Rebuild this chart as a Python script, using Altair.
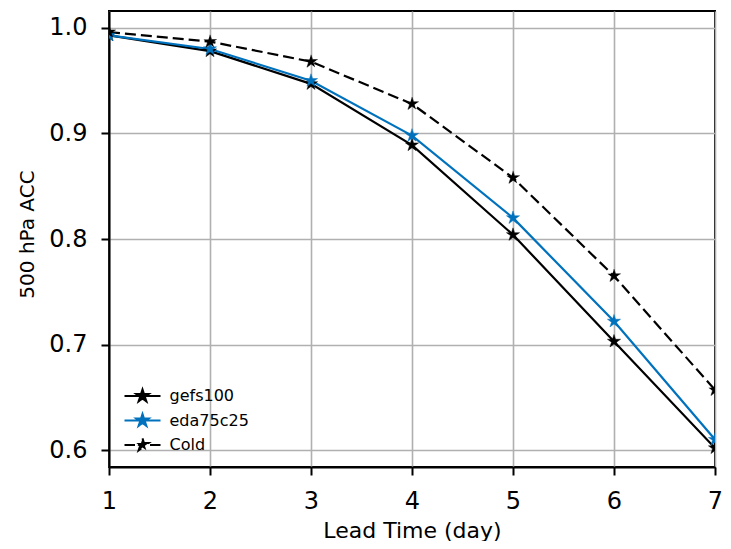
import altair as alt
import pandas as pd

# ---- data ----
days = [1, 2, 3, 4, 5, 6, 7]
gefs100 = [0.993, 0.978, 0.947, 0.889, 0.804, 0.703, 0.602]
eda75c25 = [0.993, 0.980, 0.950, 0.898, 0.820, 0.722, 0.610]
cold = [0.996, 0.987, 0.968, 0.928, 0.858, 0.765, 0.657]
series_names = ["gefs100", "eda75c25", "Cold"]
series_colors = ["#000000", "#0072BD", "#000000"]
x_ticks = [1, 2, 3, 4, 5, 6, 7]
y_ticks = [0.6, 0.7, 0.8, 0.9, 1.0]

rows = []
for name, vals, col in zip(series_names, [gefs100, eda75c25, cold], series_colors):
    for d, v in zip(days, vals):
        rows.append({"day": d, "acc": v, "series": name, "hex": col})
df = pd.DataFrame(rows)

STAR = ("M0,-1L0.2245,-0.309L0.9511,-0.309L0.3633,0.118L0.5878,0.809"
        "L0,0.382L-0.5878,0.809L-0.3633,0.118L-0.9511,-0.309L-0.2245,-0.309Z")
LEG_STAR = ("M-3,0L3,0"
            "M0,-1.1L0.247,-0.34L1.046,-0.34L0.4,0.13L0.6466,0.89"
            "L0,0.42L-0.6466,0.89L-0.4,0.13L-1.046,-0.34L-0.247,-0.34Z")

FONT = "DejaVu Sans"
W, H = 606, 456

x_enc = alt.X(
    "day:Q",
    scale=alt.Scale(domain=[1, 7], nice=False, zero=False),
    axis=alt.Axis(values=x_ticks, format="d", title="Lead Time (day)",
                  labelBaseline="alphabetic", labelPadding=33, labelFlush=False,
                  titleFontSize=22, titleBaseline="alphabetic", titleY=70, titleX=W / 2),
)
y_enc = alt.Y(
    "acc:Q",
    scale=alt.Scale(domain=[0.584, 1.016], nice=False, zero=False),
    axis=alt.Axis(values=y_ticks, format=".1f", title="500 hPa ACC",
                  labelPadding=14, labelFlush=False, titleAngle=270,
                  titleFontSize=20, titleBaseline="alphabetic", titleAlign="center",
                  titleX=-76, titleY=223),
)

base = alt.Chart(df)

solid = base.transform_filter(alt.datum.series != "Cold").mark_line(
    strokeWidth=2.2, clip=True
).encode(x=x_enc, y=y_enc, color=alt.Color("hex:N", scale=None), detail="series:N")

dashed = base.transform_filter(alt.datum.series == "Cold").mark_line(
    strokeWidth=2.2, strokeDash=[11, 5], clip=True
).encode(x=x_enc, y=y_enc, color=alt.Color("hex:N", scale=None))

leg = alt.Legend(
    title=None, orient="none", legendX=25.5, legendY=377, padding=0,
    symbolType=LEG_STAR, symbolSize=144, symbolStrokeWidth=2, symbolOpacity=1,
    labelFont=FONT, labelFontSize=16, labelColor="black", labelOffset=19,
    rowPadding=3.5,
)

points = base.mark_point(
    filled=True, shape=STAR, size=190, strokeWidth=0.5, opacity=1, clip=True
).encode(
    x=x_enc, y=y_enc,
    color=alt.Color("series:N", scale=alt.Scale(domain=series_names, range=series_colors), legend=leg),
    stroke=alt.Stroke("series:N", scale=alt.Scale(domain=series_names, range=series_colors), legend=leg),
    strokeDash=alt.StrokeDash("series:N", scale=alt.Scale(domain=series_names, range=[[1, 0], [1, 0], [10.5, 15]]), legend=leg),
)

chart = alt.layer(solid, dashed, points).properties(
    width=W, height=H,
    padding={"left": 101, "top": 3, "right": 8, "bottom": 74},
    autosize=alt.AutoSizeParams(type="none"),
    background="white",
).configure_view(
    stroke="black", strokeWidth=2
).configure_axis(
    labelFont=FONT, labelFontSize=24, labelColor="black",
    titleFont=FONT, titleFontWeight="normal", titleColor="black",
    tickColor="black", tickWidth=2, tickSize=8,
    domainColor="black", domainWidth=2,
    gridColor="#b0b0b0", gridWidth=1.6, gridOpacity=1,
)

chart.save("out.html", embed_options={"renderer": "svg", "actions": False})
